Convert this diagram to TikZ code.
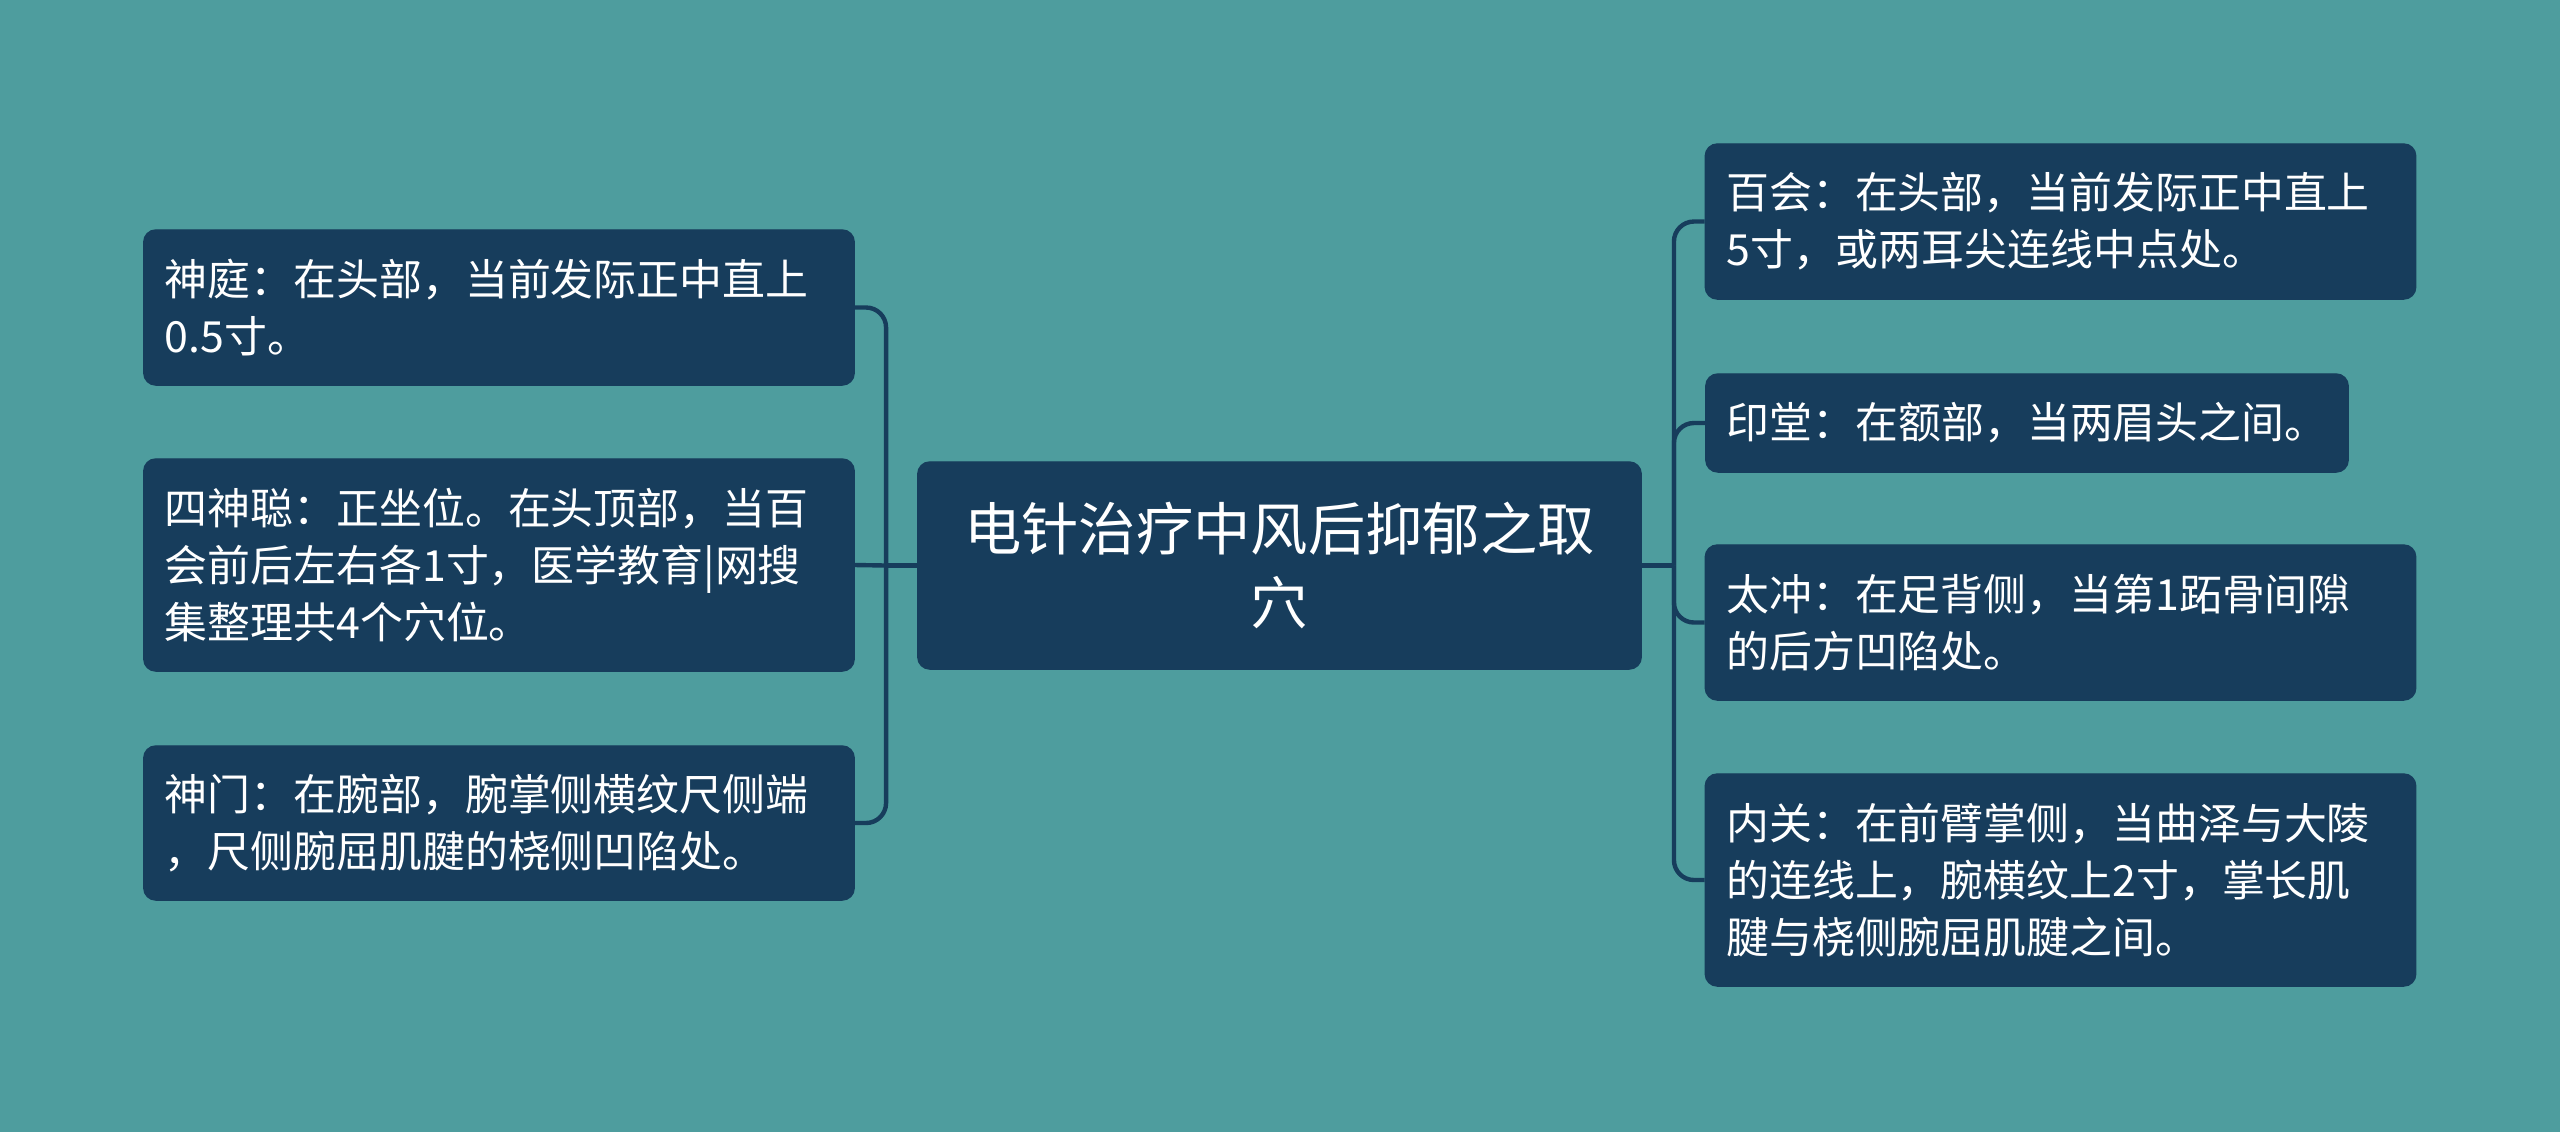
\documentclass[tikz,border=0pt]{standalone}
\usepackage{fontspec}
\setmainfont{Noto Sans CJK SC}
\definecolor{bgteal}{RGB}{78,157,158}
\definecolor{boxnavy}{RGB}{23,61,92}
\tikzset{
  leaf/.style={draw=boxnavy, fill=boxnavy, rounded corners=0.12cm, text=white,
    align=left, inner xsep=0.21cm, inner ysep=0pt, text width=6.68cm,
    minimum width=7.1cm, font=\fontsize{12.2}{16.2}\selectfont},
  root/.style={draw=boxnavy, fill=boxnavy, rounded corners=0.12cm, text=white,
    align=center, inner xsep=0.3cm, inner ysep=0pt, text width=6.63cm,
    minimum width=7.23cm, minimum height=2.07cm, font=\fontsize{16.3}{21.3}\selectfont},
  link/.style={draw=boxnavy, line width=1.25pt, rounded corners=0.2cm}
}
\begin{document}
\begin{tikzpicture}[x=0.01cm, y=-0.01cm]
    \fill[bgteal] (0,0) rectangle (2560,1132);
    \useasboundingbox (0,0) rectangle (2560,1132);
    % centre
    \node[root] (root) at (1279.5,565.5) {电针治疗中风后抑郁之取\\穴};
    % left side
    \node[leaf, minimum height=1.55cm] (L1) at (499,307.5) {神庭：在头部，当前发际正中直上\\0.5寸。};
    \node[leaf, minimum height=2.12cm] (L2) at (499,565) {四神聪：正坐位。在头顶部，当百\\会前后左右各1寸，医学教育|网搜\\集整理共4个穴位。};
    \node[leaf, minimum height=1.54cm] (L3) at (499,823) {神门：在腕部，腕掌侧横纹尺侧端\\，尺侧腕屈肌腱的桡侧凹陷处。};
    % right side
    \node[leaf, minimum height=1.55cm] (R1) at (2060.5,221.5) {百会：在头部，当前发际正中直上\\5寸，或两耳尖连线中点处。};
    \node[leaf, minimum height=0.98cm, text width=6.0cm, minimum width=6.42cm] (R2) at (2027,423) {印堂：在额部，当两眉头之间。};
    \node[leaf, minimum height=1.55cm] (R3) at (2060.5,622.5) {太冲：在足背侧，当第1跖骨间隙\\的后方凹陷处。};
    \node[leaf, minimum height=2.12cm] (R4) at (2060.5,880) {内关：在前臂掌侧，当曲泽与大陵\\的连线上，腕横纹上2寸，掌长肌\\腱与桡侧腕屈肌腱之间。};
    % connectors
    \coordinate (lj) at ([xshift=-0.31cm]root.west);
    \coordinate (rj) at ([xshift=0.32cm]root.east);
    \draw[link] (root.west) -- (lj);
    \draw[link] (lj) |- (L1.east);
    \draw[link] (lj) -- (L2.east);
    \draw[link] (lj) |- (L3.east);
    \draw[link] (root.east) -- (rj);
    \draw[link] (rj) |- (R1.west);
    \draw[link] (rj) |- (R2.west);
    \draw[link] (rj) |- (R3.west);
    \draw[link] (rj) |- (R4.west);
\end{tikzpicture}
\end{document}
